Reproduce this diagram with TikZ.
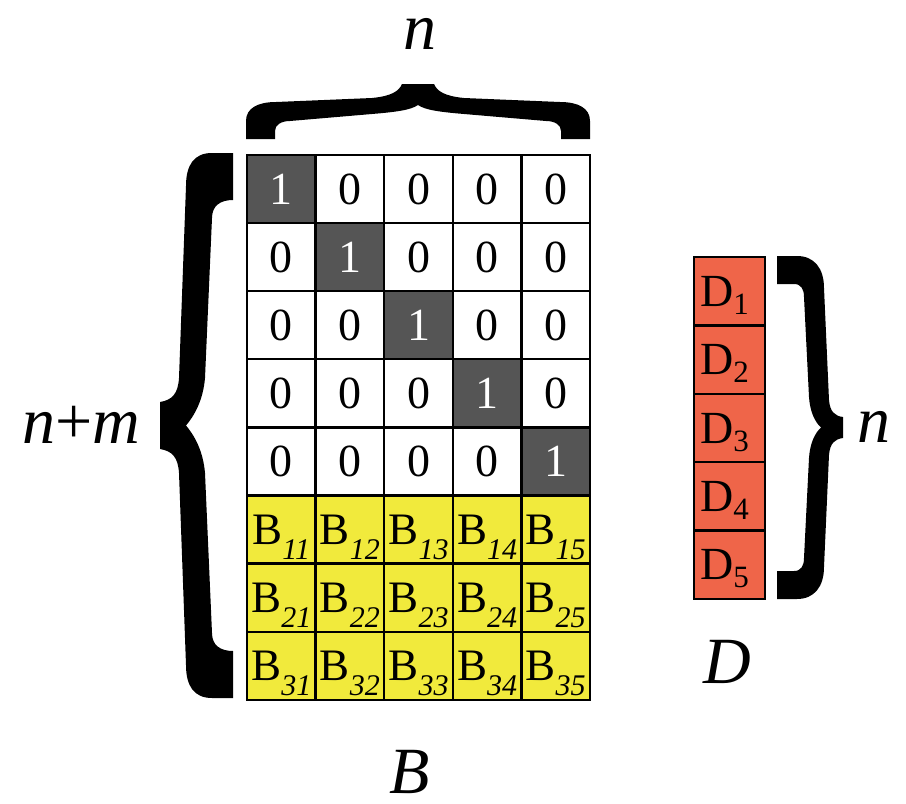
\documentclass[tikz,border=0pt]{standalone}
\usepackage{fontspec}
\setmainfont{Liberation Serif}
\definecolor{dk}{RGB}{85,85,85}
\definecolor{yl}{RGB}{241,234,60}
\definecolor{dr}{RGB}{239,101,73}
\newcommand{\Bsub}[1]{B\smash{\raisebox{-15pt}{\fontsize{30}{30}\selectfont\itshape #1}}}
\newcommand{\Dsub}[1]{D\smash{\raisebox{-8pt}{\fontsize{31}{31}\selectfont #1}}\hspace*{10pt}}
\begin{document}
\begin{tikzpicture}[x=1pt,y=-1pt,
  cell/.style={draw=black, line width=2.3pt, minimum width=68.6pt, minimum height=68.1pt, inner sep=0pt, font=\fontsize{46}{46}\selectfont, anchor=center},
  zero/.style={cell, fill=white},
  one/.style={cell, fill=dk, text=white},
  bcell/.style={cell, fill=yl, font=\fontsize{45}{45}\selectfont},
  dcell/.style={cell, fill=dr, minimum width=71pt, minimum height=68.4pt, font=\fontsize{46}{46}\selectfont},
  lbl/.style={font=\fontsize{66}{66}\selectfont\itshape, inner sep=0pt},
  brace/.style={fill=black, draw=none}]
\useasboundingbox (0,0) rectangle (906,804);
\fill[white] (0,0) rectangle (906,804);
% identity part
\foreach \i in {1,...,5}{
  \foreach \j in {1,...,5}{
    \ifnum\i=\j
      \node[one] (m-\i-\j) at ({247+68.6*(\j-0.5)},{155+68.1*(\i-0.5)}) {1};
    \else
      \node[zero] (m-\i-\j) at ({247+68.6*(\j-0.5)},{155+68.1*(\i-0.5)}) {0};
    \fi
  }}
% B part
\foreach \r in {1,2,3}{
  \foreach \j in {1,...,5}{
    \node[bcell] (b-\r-\j) at ({247+68.6*(\j-0.5)},{155+68.1*(\r+4.5)}) {\Bsub{\r\j}};
  }}
% D column
\foreach \k in {1,...,5}{
  \node[dcell] (d-\k) at (729.5,{257+68.4*(\k-0.5)}) {\Dsub{\k}};
}
% labels
\node[lbl] (ntop) at (420,34) {n};
\node[lbl] (nm) at (81,425) {n\textup{+}m};
\node[lbl] (nr) at (874,427) {n};
\node[lbl] (Dl) at (727,662) {D};
\node[lbl] (Bl) at (410,772) {B};
% top brace
\fill[brace] (246,139) -- (246,121) .. controls (246,108) and (258,102) .. (276,102)
  -- (372,98) .. controls (392,96) and (399,91) .. (402,84) -- (434,84)
  .. controls (437,91) and (444,96) .. (464,98) -- (560,102)
  .. controls (578,102) and (590,108) .. (590,121) -- (590,139) -- (561,139) -- (561,131)
  .. controls (561,125) and (555,121) .. (546,121) -- (464,114)
  .. controls (440,112) and (425,110) .. (418,105)
  .. controls (411,110) and (396,112) .. (372,114) -- (290,121)
  .. controls (281,121) and (275,125) .. (275,131) -- (275,139) -- cycle;
% left brace
\fill[brace] (233,153) -- (212,153) .. controls (194,153) and (186,165) .. (186,186)
  -- (179,378) .. controls (178,394) and (172,400) .. (160,402) -- (160,449)
  .. controls (172,451) and (178,457) .. (179,473) -- (186,665)
  .. controls (186,686) and (194,698) .. (212,698) -- (233,698) -- (233,651)
  .. controls (220,651) and (212,645) .. (212,633) -- (205,473)
  .. controls (203,450) and (194,435) .. (186,425.5)
  .. controls (194,416) and (203,401) .. (205,378) -- (212,218)
  .. controls (212,206) and (220,200) .. (233,200) -- cycle;
% right brace
\fill[brace] (777,256) -- (797,256) .. controls (814,256) and (824,268) .. (824,288)
  -- (829,400) .. controls (830,412) and (835,416) .. (843,417) -- (843,438)
  .. controls (835,439) and (830,443) .. (829,455) -- (824,567)
  .. controls (824,587) and (814,599) .. (797,599) -- (777,599) -- (777,571) -- (794,571)
  .. controls (801,571) and (804,566) .. (804,558) -- (809,458)
  .. controls (810,443) and (815,433) .. (821,427.5)
  .. controls (815,422) and (810,412) .. (809,397) -- (804,297)
  .. controls (804,289) and (801,284) .. (794,284) -- (777,284) -- cycle;
\end{tikzpicture}
\end{document}
